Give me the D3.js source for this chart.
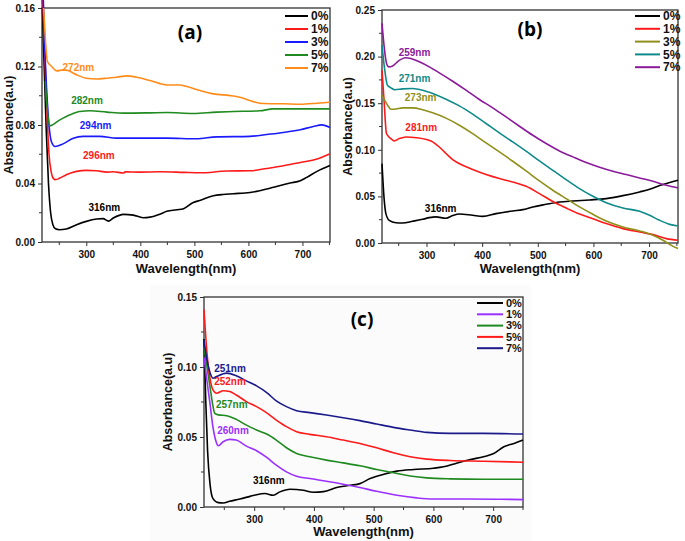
<!DOCTYPE html>
<html><head><meta charset="utf-8">
<script src="https://cdn.jsdelivr.net/npm/d3@7"></script>
<style>body{margin:0;background:#fff}svg{display:block}text{font-family:"Liberation Sans",Arial,sans-serif;font-weight:bold}</style>
</head><body><svg id="c" width="685" height="541"></svg>
<script>
// ---------- data: [wavelength nm, absorbance] ----------
const seriesLabels = ["0%","1%","3%","5%","7%"];
// Panel (a)
const a0 = [[218,0.17],[222,0.12],[226,0.075],[230,0.04],[234,0.02],[238,0.012],[243,0.009],[250,0.0084],[263,0.0089],[282,0.0118],[300,0.0141],[319,0.0157],[331,0.016],[341,0.0143],[350,0.0164],[369,0.0189],[387,0.0184],[405,0.0166],[418,0.017],[436,0.019],[449,0.021],[467,0.022],[480,0.0228],[498,0.027],[510,0.0284],[535,0.0316],[553,0.0325],[572,0.033],[603,0.0339],[615,0.0346],[634,0.0362],[652,0.038],[677,0.0403],[696,0.0419],[708,0.0442],[727,0.0483],[751,0.0523]];
const a1 = [[219,0.17],[223,0.13],[227,0.09],[231,0.06],[235,0.048],[239,0.0435],[243,0.0426],[251,0.0437],[263,0.046],[282,0.0483],[300,0.049],[319,0.0487],[338,0.0478],[350,0.048],[369,0.0472],[372,0.048],[399,0.0478],[436,0.048],[480,0.0476],[510,0.0473],[560,0.0485],[603,0.0487],[634,0.0503],[665,0.0521],[696,0.0544],[727,0.0567],[751,0.0603]];
const a3 = [[220,0.17],[224,0.125],[228,0.095],[232,0.076],[236,0.068],[242,0.0653],[257,0.0671],[276,0.071],[294,0.0722],[325,0.0722],[356,0.071],[387,0.071],[449,0.071],[504,0.0706],[541,0.0719],[603,0.0722],[634,0.0735],[665,0.0749],[696,0.0767],[720,0.079],[736,0.0801],[751,0.0783]];
const a5 = [[224,0.11],[228,0.09],[232,0.0794],[251,0.0835],[270,0.087],[288,0.0892],[307,0.0897],[338,0.0888],[369,0.0881],[418,0.0883],[449,0.0885],[498,0.0879],[541,0.0888],[572,0.0892],[621,0.0897],[646,0.091],[696,0.091],[751,0.091]];
const a7 = [[221,0.16],[224,0.14],[228,0.1234],[236,0.12],[245,0.117],[257,0.1177],[266,0.1172],[282,0.1143],[300,0.112],[319,0.1115],[338,0.112],[356,0.1127],[375,0.1136],[393,0.1127],[418,0.1104],[449,0.1074],[473,0.1074],[486,0.1063],[510,0.1036],[535,0.1013],[566,0.1001],[584,0.099],[609,0.096],[628,0.0947],[665,0.0945],[696,0.0942],[727,0.0949],[751,0.0956]];
// Panel (b)
const b0 = [[220,0.085],[224,0.046],[227,0.0315],[233,0.0243],[245,0.0218],[257,0.0215],[275,0.0233],[293,0.0254],[305,0.0272],[317,0.028],[335,0.0265],[347,0.0294],[359,0.0311],[383,0.0297],[401,0.0286],[425,0.0315],[455,0.0344],[473,0.0358],[491,0.0387],[515,0.0415],[539,0.044],[563,0.0451],[593,0.0462],[623,0.0476],[653,0.0508],[683,0.0548],[701,0.0576],[719,0.0616],[752,0.0673]];
const b1 = [[220,0.1855],[224,0.15],[228,0.1175],[236,0.112],[242,0.1095],[251,0.112],[263,0.1138],[282,0.113],[300,0.111],[311,0.1085],[323,0.103],[335,0.096],[347,0.0895],[365,0.0834],[383,0.0788],[407,0.0734],[431,0.0691],[455,0.0655],[479,0.0609],[503,0.053],[527,0.0445],[551,0.0375],[575,0.031],[599,0.026],[623,0.0208],[653,0.0154],[683,0.0118],[707,0.009],[731,0.0047],[752,0.0029]];
const b3 = [[220,0.1587],[226,0.152],[231,0.147],[236,0.1435],[245,0.1438],[257,0.145],[275,0.145],[293,0.143],[311,0.1397],[335,0.134],[359,0.1264],[383,0.1174],[407,0.1074],[431,0.0977],[455,0.0877],[479,0.0773],[503,0.0666],[527,0.0566],[551,0.0476],[575,0.0387],[599,0.0308],[623,0.0236],[653,0.0172],[683,0.0129],[707,0.0082],[725,0.0029],[740,-0.0025],[752,-0.006]];
const b5 = [[220,0.2124],[224,0.19],[229.7,0.1694],[236,0.1665],[243,0.1645],[257,0.1654],[275,0.1658],[293,0.164],[311,0.1604],[335,0.1543],[359,0.1471],[383,0.1382],[407,0.1282],[431,0.1181],[455,0.1085],[479,0.0985],[503,0.0881],[527,0.078],[551,0.068],[575,0.0584],[599,0.0501],[623,0.0433],[653,0.0376],[683,0.034],[701,0.0297],[719,0.0243],[737,0.02],[752,0.0183]];
const b7 = [[220,0.2357],[224,0.21],[228,0.193],[232,0.189],[239,0.19],[251,0.196],[262,0.1988],[272,0.198],[287,0.1944],[305,0.189],[323,0.1826],[347,0.1736],[371,0.164],[395,0.154],[419,0.145],[443,0.1353],[467,0.1253],[491,0.1156],[515,0.1067],[539,0.0988],[563,0.0924],[587,0.0863],[611,0.0813],[635,0.077],[659,0.0734],[683,0.0698],[707,0.0662],[731,0.0619],[752,0.0591]];
// Panel (c)
const c0 = [[216,0.12],[219,0.075],[222,0.04],[226,0.0167],[231,0.006],[240,0.0031],[248,0.0029],[259,0.0041],[276,0.0057],[293,0.0076],[304,0.0088],[318,0.0096],[332,0.0084],[343,0.0108],[360,0.0127],[382,0.012],[399,0.0105],[416,0.011],[438,0.0139],[461,0.0155],[477,0.0167],[494,0.0203],[517,0.0234],[539,0.0256],[567,0.0268],[600,0.0277],[617,0.0287],[640,0.0315],[662,0.0339],[684,0.0359],[701,0.0382],[718,0.043],[735,0.0454],[750,0.0478]];
const c1 = [[216,0.107],[221,0.09],[226,0.074],[231,0.057],[236,0.047],[240,0.0437],[248,0.0466],[259,0.0483],[270,0.0478],[287,0.0435],[304,0.0402],[321,0.0354],[337,0.0299],[354,0.0251],[371,0.022],[393,0.0203],[421,0.0184],[449,0.0163],[477,0.0139],[505,0.0112],[539,0.0084],[572,0.0065],[600,0.0057],[657,0.0057],[713,0.0055],[750,0.0053]];
const c3 = [[216,0.114],[221,0.1],[226,0.086],[231,0.072],[234,0.0669],[240,0.0658],[254,0.0652],[270,0.0626],[287,0.0585],[304,0.055],[321,0.0521],[337,0.0478],[354,0.0423],[371,0.0382],[393,0.0359],[421,0.0335],[449,0.0315],[477,0.0294],[505,0.0268],[533,0.0244],[561,0.0222],[589,0.0208],[628,0.0201],[684,0.0198],[750,0.0198]];
const c5 = [[216,0.141],[221,0.11],[226,0.092],[231,0.0836],[237,0.0813],[248,0.083],[259,0.0825],[270,0.08],[287,0.0753],[304,0.0717],[318,0.0681],[337,0.0621],[354,0.0574],[371,0.0538],[393,0.0519],[421,0.0502],[449,0.0478],[477,0.0454],[505,0.0423],[533,0.0387],[561,0.0359],[589,0.0342],[628,0.0332],[684,0.0327],[750,0.032]];
const c7 = [[216,0.119],[221,0.105],[226,0.096],[231,0.092],[237,0.0932],[254,0.0956],[270,0.0937],[287,0.0901],[304,0.0865],[321,0.0817],[337,0.0758],[354,0.0717],[371,0.0688],[393,0.0674],[421,0.0657],[449,0.0638],[477,0.0617],[505,0.0593],[533,0.0569],[561,0.055],[589,0.0533],[628,0.0526],[684,0.0526],[750,0.0521]];
// peak annotations: [text, wavelength, absorbance]
const peaksA = [["272nm",256,0.117],["282nm",272,0.0945],["294nm",288,0.0775],["296nm",294,0.0565],["316nm",304,0.0215]];
const peaksB = [["259nm",250,0.2005],["271nm",250,0.173],["273nm",261,0.1525],["281nm",262,0.12],["316nm",297,0.0337]];
const peaksC = [["251nm",233,0.0962],["252nm",233,0.0875],["257nm",236,0.0705],["260nm",238,0.0525],["316nm",298,0.0165]];
const xTicks = [300,400,500,600,700];
const yTicksA = [0,0.04,0.08,0.12,0.16];
const yTicksB = [0,0.05,0.10,0.15,0.20,0.25];
const yTicksC = [0,0.05,0.10,0.15];

const svg = d3.select("#c");
svg.append("rect").attr("x",150).attr("y",285).attr("width",381).attr("height",256).attr("fill","#fbfbfb");

function panel(cfg){
  const g = svg.append("g");
  const x = d3.scaleLinear().domain(cfg.xd).range([cfg.l,cfg.r]);
  const y = d3.scaleLinear().domain(cfg.yd).range([cfg.b,cfg.t]);
  const id = "clip"+cfg.name;
  svg.append("clipPath").attr("id",id).append("rect").attr("x",cfg.l).attr("y",cfg.t).attr("width",cfg.r-cfg.l).attr("height",cfg.b-cfg.t);
  // minor ticks
  const xMinor = d3.range(250,751,100), yMinor = cfg.yMinor;
  g.selectAll(".xm").data(xMinor).join("line").attr("x1",d=>x(d)).attr("x2",d=>x(d)).attr("y1",cfg.b).attr("y2",cfg.b+3).attr("stroke","#333").attr("stroke-width",1);
  g.selectAll(".ym").data(yMinor).join("line").attr("y1",d=>y(d)).attr("y2",d=>y(d)).attr("x1",cfg.l).attr("x2",cfg.l-3).attr("stroke","#333").attr("stroke-width",1);
  const xa = g.append("g").attr("transform",`translate(0,${cfg.b})`).call(d3.axisBottom(x).tickValues(xTicks).tickSize(4).tickFormat(d3.format("d")));
  const ya = g.append("g").attr("transform",`translate(${cfg.l},0)`).call(d3.axisLeft(y).tickValues(cfg.yTicks).tickSize(4).tickFormat(d3.format(cfg.yfmt)));
  [xa,ya].forEach(a=>{a.select(".domain").remove();a.selectAll("line").attr("stroke","#333");a.selectAll("text").attr("font-size",cfg.tfs).attr("fill","#111").style("font-family","Liberation Sans, Arial").style("font-weight","bold");});
  xa.selectAll("text").attr("dy","0.9em");
  // frame
  g.append("rect").attr("x",cfg.l).attr("y",cfg.t).attr("width",cfg.r-cfg.l).attr("height",cfg.b-cfg.t).attr("fill","none").attr("stroke","#333").attr("stroke-width",1.3);
  const line = d3.line().x(d=>x(d[0])).y(d=>y(d[1])).curve(d3.curveMonotoneX);
  const lg = g.append("g").attr("clip-path",`url(#${id})`);
  cfg.series.forEach((s,i)=>{
    lg.append("path").attr("d",line(s)).attr("fill","none").attr("stroke",cfg.colors[i]).attr("stroke-width",1.6).attr("stroke-linejoin","round");
  });
  // legend
  seriesLabels.forEach((lab,i)=>{
    const yy = cfg.leg.y + i*cfg.leg.dy;
    g.append("line").attr("x1",cfg.leg.x).attr("x2",cfg.leg.x+cfg.leg.w).attr("y1",yy).attr("y2",yy).attr("stroke",cfg.colors[i]).attr("stroke-width",2);
    g.append("text").attr("x",cfg.leg.x+cfg.leg.w+3).attr("y",yy).attr("dy","0.35em").attr("font-size",cfg.leg.fs).attr("fill","#111").text(lab);
  });
  // peak labels
  cfg.peaks.forEach((p,i)=>{
    g.append("text").attr("x",x(p[1])).attr("y",y(p[2])).attr("font-size",cfg.pfs).attr("fill",cfg.colors[4-i]).text(p[0]);
  });
  // panel letter
  g.append("text").attr("x",cfg.letter[0]).attr("y",cfg.letter[1]).attr("text-anchor","middle").attr("font-size",19).style("font-family","Open Sans, Liberation Sans").attr("fill","#000").text(cfg.name);
  // axis titles
  g.append("text").attr("x",(cfg.l+cfg.r)/2).attr("y",cfg.xlabY).attr("text-anchor","middle").attr("font-size",13).attr("fill","#111").text("Wavelength(nm)");
  g.append("text").attr("transform",`translate(${cfg.ylabX},${(cfg.t+cfg.b)/2}) rotate(-90)`).attr("text-anchor","middle").attr("font-size",12.5).attr("fill","#111").text("Absorbance(a.u)");
}

panel({name:"(a)",l:42,r:330,t:8,b:242,xd:[218,751],yd:[0,0.16],yTicks:yTicksA,yMinor:[0.02,0.06,0.10,0.14],yfmt:".2f",tfs:10,
  series:[a0,a1,a3,a5,a7],colors:["#000000","#ff1a1a","#1a1aff","#1f8a1f","#ff8c1a"],
  leg:{x:285,y:16,dy:13,w:23,fs:12},peaks:peaksA,pfs:10,letter:[190,39],xlabY:273,ylabX:13});
panel({name:"(b)",l:382,r:678,t:10,b:243,xd:[220,752],yd:[0,0.25],yTicks:yTicksB,yMinor:[0.025,0.075,0.125,0.175,0.225],yfmt:".2f",tfs:10,
  series:[b0,b1,b3,b5,b7],colors:["#000000","#ff1a1a","#8f8f1a","#0f8a8a","#8b1a9b"],
  leg:{x:635,y:16,dy:12.8,w:25,fs:12},peaks:peaksB,pfs:10,letter:[530,36],xlabY:273,ylabX:352});
panel({name:"(c)",l:204,r:523,t:297,b:507,xd:[216,750],yd:[0,0.15],yTicks:yTicksC,yMinor:[0.025,0.075,0.125],yfmt:".2f",tfs:10,
  series:[c0,c1,c3,c5,c7],colors:["#000000","#9b30ff","#1f8a1f","#ff1a1a","#1a1a8b"],
  leg:{x:477,y:303,dy:11.3,w:26,fs:11},peaks:peaksC,pfs:10,letter:[362,326],xlabY:536,ylabX:172});
</script></body></html>
